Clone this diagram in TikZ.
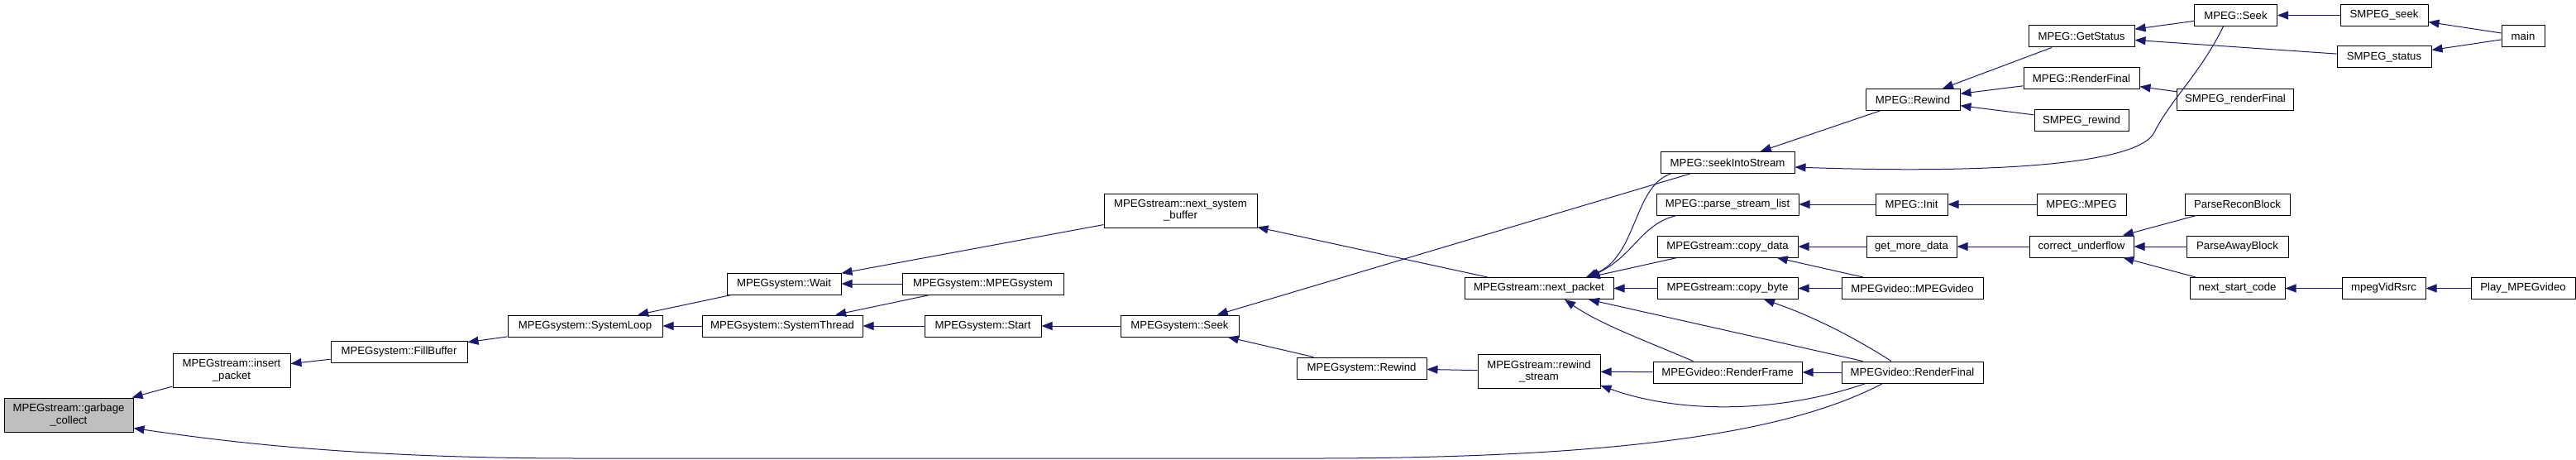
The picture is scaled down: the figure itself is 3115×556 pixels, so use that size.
\documentclass[tikz,border=0pt]{standalone}
\usepackage{fontspec}
\setmainfont{Liberation Sans}
\usetikzlibrary{arrows.meta}
\definecolor{edgecol}{HTML}{191970}
\definecolor{gcfill}{HTML}{BFBFBF}
\tikzset{
  box/.style={draw=black, line width=1pt, fill=white, inner sep=1pt, minimum height=26pt, align=center, font=\fontsize{13.2}{14.3}\selectfont},
  box2/.style={box, minimum height=41pt},
  edge/.style={draw=edgecol, line width=1pt, -{Triangle[length=13pt,width=10pt]}}
}
\begin{document}
\begin{tikzpicture}[x=1pt,y=-1pt]
\useasboundingbox (0,0) rectangle (3115,556);
% nodes
\node[box2, fill=gcfill, minimum width=156pt] (gc) at (83,501.5) {MPEGstream::garbage\\\_collect};
\node[box2, minimum width=142pt] (ip) at (280,447.5) {MPEGstream::insert\\\_packet};
\node[box, minimum width=165pt] (fb) at (482.5,425) {MPEGsystem::FillBuffer};
\node[box, minimum width=187pt] (sl) at (707.5,394) {MPEGsystem::SystemLoop};
\node[box, minimum width=138pt] (wait) at (948,343) {MPEGsystem::Wait};
\node[box, minimum width=194pt] (st) at (946,394) {MPEGsystem::SystemThread};
\node[box2, minimum width=185pt] (nsb) at (1427.5,254.5) {MPEGstream::next\_system\\\_buffer};
\node[box, minimum width=195pt] (mps) at (1188.5,343) {MPEGsystem::MPEGsystem};
\node[box, minimum width=141pt] (start) at (1188.5,394) {MPEGsystem::Start};
\node[box, minimum width=143pt] (seek) at (1426.5,394) {MPEGsystem::Seek};
\node[box, minimum width=157pt] (srew) at (1646.5,445) {MPEGsystem::Rewind};
\node[box2, minimum width=148pt] (rs) at (1861,449) {MPEGstream::rewind\\\_stream};
\node[box, minimum width=180pt] (np) at (1861,348.5) {MPEGstream::next\_packet};
\node[box, minimum width=162pt] (sis) at (2089,196.5) {MPEG::seekIntoStream};
\node[box, minimum width=172pt] (psl) at (2089,247) {MPEG::parse\_stream\_list};
\node[box, minimum width=170pt] (cd) at (2089,298) {MPEGstream::copy\_data};
\node[box, minimum width=170pt] (cb) at (2089,348.5) {MPEGstream::copy\_byte};
\node[box, minimum width=180pt] (rfr) at (2089,450) {MPEGvideo::RenderFrame};
\node[box, minimum width=171pt] (rfi) at (2312.5,450) {MPEGvideo::RenderFinal};
\node[box, minimum width=171pt] (mvid) at (2312.5,348.5) {MPEGvideo::MPEGvideo};
\node[box, minimum width=87pt] (init) at (2311.5,247) {MPEG::Init};
\node[box, minimum width=109pt] (gmd) at (2311.5,298) {get\_more\_data};
\node[box, minimum width=114pt] (mrew) at (2313,120.5) {MPEG::Rewind};
\node[box, minimum width=128pt] (gs) at (2517,44) {MPEG::GetStatus};
\node[box, minimum width=140pt] (mrf) at (2517,95) {MPEG::RenderFinal};
\node[box, minimum width=114pt] (smrew) at (2517,146) {SMPEG\_rewind};
\node[box, minimum width=108pt] (mmpeg) at (2517,247) {MPEG::MPEG};
\node[box, minimum width=126pt] (cu) at (2517,298) {correct\_underflow};
\node[box, minimum width=100pt] (mseek) at (2703.5,18.5) {MPEG::Seek};
\node[box, minimum width=141pt] (smrf) at (2703,120.5) {SMPEG\_renderFinal};
\node[box, minimum width=127pt] (prb) at (2705.5,247) {ParseReconBlock};
\node[box, minimum width=123pt] (pab) at (2705.5,298) {ParseAwayBlock};
\node[box, minimum width=115pt] (nsc) at (2705.5,348.5) {next\_start\_code};
\node[box, minimum width=106pt] (smseek) at (2883,18.5) {SMPEG\_seek};
\node[box, minimum width=114pt] (smstat) at (2883,69) {SMPEG\_status};
\node[box, minimum width=101pt] (mvr) at (2882.5,348.5) {mpegVidRsrc};
\node[box, minimum width=52pt] (main) at (3051,44) {main};
\node[box, minimum width=126pt] (play) at (3051,348.5) {Play\_MPEGvideo};
% edges (caller -> callee)
\draw[edge] (ip) -- (gc);
\draw[edge] (fb) -- (ip);
\draw[edge] (sl) -- (fb);
\draw[edge] (wait) -- (sl);
\draw[edge] (st) -- (sl);
\draw[edge] (nsb) -- (wait);
\draw[edge] (mps) -- (wait);
\draw[edge] (mps) -- (st);
\draw[edge] (start) -- (st);
\draw[edge] (seek) -- (start);
\draw[edge] (np) -- (nsb);
\draw[edge] (sis) -- (seek);
\draw[edge] (srew) -- (seek);
\draw[edge] (rs) -- (srew);
\draw[edge] (rfr) -- (rs);
\draw[edge] ([xshift=-56.5pt]rfi.south) .. controls (2150,500) and (2030,500) .. ([yshift=-17pt]rs.east);
\draw[edge] ([xshift=-36pt]rfi.south) .. controls (2160,525) and (1950,553) .. (1600,554) -- (700,554) .. controls (420,554) and (260,532) .. ([yshift=5pt]gc.south east);
\draw[edge] ([xshift=13pt]sis.south west) .. controls (1975,225) and (1980,310) .. ([xshift=57pt]np.north);
\draw[edge] ([xshift=25pt]psl.south west) .. controls (1985,270) and (1975,310) .. ([xshift=60pt]np.north);
\draw[edge] (cd) -- (np);
\draw[edge] (cb) -- (np);
\draw[edge] ([xshift=49pt]rfr.north west) .. controls (1995,414) and (1935,392) .. ([xshift=31pt]np.south);
\draw[edge] (rfi) -- (np);
\draw[edge] ([xshift=-25.5pt]rfi.north) .. controls (2230,400) and (2180,378) .. ([xshift=44pt]cb.south);
\draw[edge] (mvid) -- (cd);
\draw[edge] (mvid) -- (cb);
\draw[edge] (rfi) -- (rfr);
\draw[edge] (gmd) -- (cd);
\draw[edge] (init) -- (psl);
\draw[edge] (mmpeg) -- (init);
\draw[edge] (cu) -- (gmd);
\draw[edge] (prb) -- (cu);
\draw[edge] (pab) -- (cu);
\draw[edge] (nsc) -- (cu);
\draw[edge] (mvr) -- (nsc);
\draw[edge] (play) -- (mvr);
\draw[edge] (mrew) -- (sis);
\draw[edge] ([xshift=-15pt]mseek.south) .. controls (2660,90) and (2625,120) .. (2605,160) .. controls (2585,200) and (2400,210) .. ([yshift=-5.5pt]sis.east);
\draw[edge] (gs) -- (mrew);
\draw[edge] (mrf) -- (mrew);
\draw[edge] (smrew) -- (mrew);
\draw[edge] (smrf) -- (mrf);
\draw[edge] (mseek) -- (gs);
\draw[edge] (smstat) -- (gs);
\draw[edge] (smseek) -- (mseek);
\draw[edge] (main) -- (smseek);
\draw[edge] (main) -- (smstat);
\end{tikzpicture}
\end{document}
